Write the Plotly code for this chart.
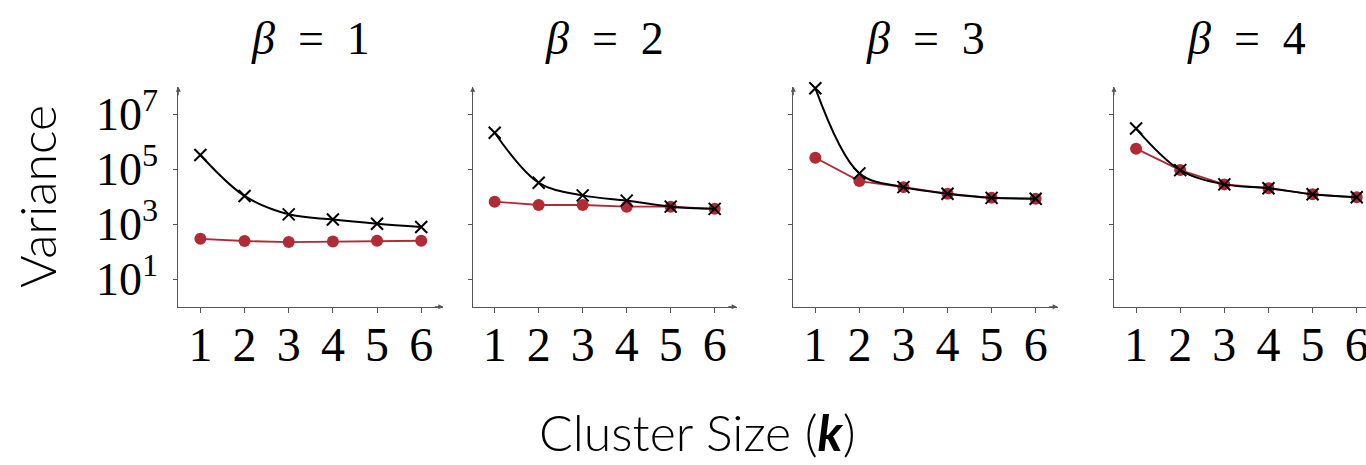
import plotly.graph_objects as go

W, H = 1366, 465

k = [1, 2, 3, 4, 5, 6]
betas = ["1", "2", "3", "4"]
# log10 variance values
black = [
    [5.52, 4.03, 3.36, 3.17, 3.02, 2.90],
    [6.33, 4.51, 4.05, 3.86, 3.64, 3.56],
    [7.95, 4.85, 4.35, 4.11, 3.96, 3.93],
    [6.48, 4.97, 4.45, 4.31, 4.09, 3.98],
]
red = [
    [2.47, 2.39, 2.35, 2.37, 2.40, 2.40],
    [3.82, 3.70, 3.70, 3.64, 3.64, 3.56],
    [5.42, 4.57, 4.35, 4.11, 3.96, 3.93],
    [5.75, 4.97, 4.45, 4.31, 4.09, 3.98],
]
ytickvals = [1e1, 1e3, 1e5, 1e7]
yticktext = ["10<sup>1</sup>", "10<sup>3</sup>", "10<sup>5</sup>", "10<sup>7</sup>"]

RED = "#b02b36"
AXC = "#555555"
SERIF = "Liberation Serif, DejaVu Serif, serif"
SANS = "Lato, Open Sans, sans-serif"

# pixel extents of the panels
px_dom = [(178.3, 443.3), (472.7, 736.7), (793.3, 1057.7), (1114.0, 1366.0)]
xranges = [[0.5, 6.5], [0.5, 6.5], [0.5, 6.5], [0.5, 6.21]]
ydom = [1 - 306.7 / H, 1 - 86.8 / H]

fig = go.Figure()
annotations = []
for i in range(4):
    ax_id = "" if i == 0 else str(i + 1)
    xa, ya = "x" + ax_id, "y" + ax_id
    yv_red = [10 ** v for v in red[i]]
    yv_blk = [10 ** v for v in black[i]]
    fig.add_trace(go.Scatter(
        x=k, y=yv_red, mode="lines+markers", xaxis=xa, yaxis=ya,
        line=dict(color=RED, width=1.8),
        marker=dict(symbol="circle", size=12, color=RED),
        showlegend=False, cliponaxis=False))
    fig.add_trace(go.Scatter(
        x=k, y=yv_blk, mode="lines+markers", xaxis=xa, yaxis=ya,
        line=dict(color="black", width=2, shape="spline"),
        marker=dict(symbol="x-thin", size=12, line=dict(color="black", width=2)),
        showlegend=False, cliponaxis=False))
    d0, d1 = px_dom[i]
    fig.layout["xaxis" + ax_id] = dict(
        domain=[d0 / W, d1 / W], range=xranges[i], anchor=ya, automargin=False,
        tickvals=k, ticktext=[str(v) for v in k], ticklabeloverflow="allow",
        showgrid=False, zeroline=False, showline=True, linecolor=AXC, linewidth=1,
        ticks="outside", ticklen=5, tickcolor=AXC, ticklabelstandoff=-9,
        tickfont=dict(family=SERIF, size=48, color="black"))
    fig.layout["yaxis" + ax_id] = dict(
        domain=ydom, type="log", range=[0, 8], anchor=xa, automargin=False,
        tickvals=ytickvals, ticktext=yticktext if i == 0 else [""] * 4,
        showticklabels=(i == 0),
        showgrid=False, zeroline=False, showline=True, linecolor=AXC, linewidth=1,
        ticks="outside", ticklen=4, tickcolor=AXC, ticklabelstandoff=6,
        tickfont=dict(family=SERIF, size=46, color="black"))
    # title
    annotations.append(dict(
        text="<i>β</i>\u2002=\u2002" + betas[i],
        x=(d0 + d1) / 2 / W if i < 3 else (1114 + 1378) / 2 / W,
        y=1 - 38 / H, xref="paper", yref="paper", showarrow=False,
        xanchor="center", yanchor="middle",
        font=dict(family=SERIF, size=46, color="black")))
    # axis arrows
    annotations.append(dict(
        x=0.5, y=8, xref=xa, yref=ya, text="", showarrow=True,
        ax=0, ay=10, axref="pixel", ayref="pixel",
        arrowhead=2, arrowsize=1, arrowwidth=1, arrowcolor=AXC))
    if i < 3:
        annotations.append(dict(
            x=6.5, y=0, xref=xa, yref=ya, text="", showarrow=True,
            ax=-10, ay=0, axref="pixel", ayref="pixel",
            arrowhead=2, arrowsize=1, arrowwidth=1, arrowcolor=AXC))

annotations.append(dict(
    text="Variance", x=37 / W, y=1 - 197 / H, xref="paper", yref="paper",
    showarrow=False, textangle=-90, xanchor="center", yanchor="middle",
    font=dict(family=SANS, size=50, color="black", weight=300)))
annotations.append(dict(
    text="Cluster Size (<i><b>k</b></i>)", x=697.5 / W, y=1 - 432 / H,
    xref="paper", yref="paper", showarrow=False, xanchor="center", yanchor="middle",
    font=dict(family=SANS, size=50, color="black", weight=300)))

fig.update_layout(
    width=W, height=H, margin=dict(l=0, r=0, t=0, b=0),
    paper_bgcolor="white", plot_bgcolor="white",
    annotations=annotations)

fig.write_html("out.html", config={"displayModeBar": False},
               post_script="document.body.style.margin='0';")
